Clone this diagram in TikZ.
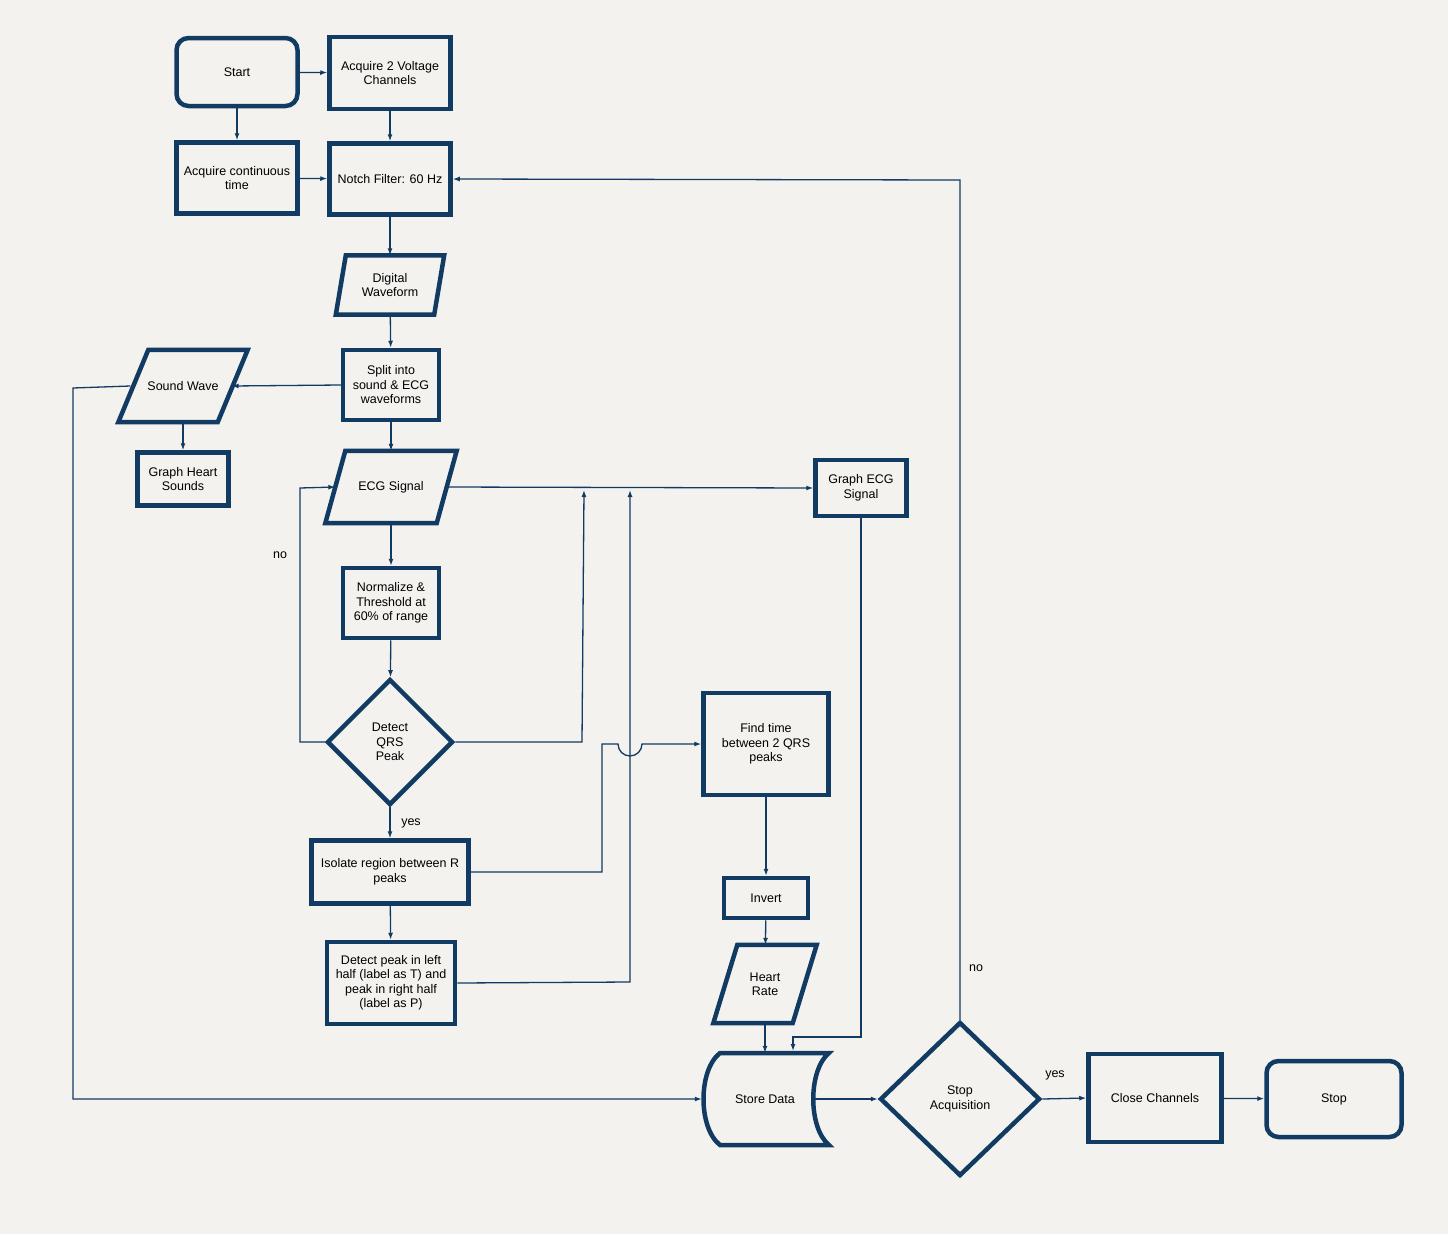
\documentclass[tikz,border=0pt]{standalone}
\usepackage{fontspec}
\setmainfont{Liberation Sans}
\usetikzlibrary{shapes.geometric,arrows.meta}
\definecolor{nv}{HTML}{123B63}
\definecolor{bg}{HTML}{F4F2EE}
\begin{document}
\begin{tikzpicture}[x=1pt,y=-1pt,
  every node/.style={font=\fontsize{12.5}{14.5}\selectfont, align=center, inner sep=0pt},
  box/.style={draw=nv, line width=4.5pt, minimum width=#1},
  rbox/.style={draw=nv, line width=4.5pt, rounded corners=12pt},
  ghost/.style={draw=none},
  shp/.style={draw=nv, line width=4.5pt, line join=miter},
  dia/.style={diamond, draw=nv, line width=4.5pt, inner sep=0pt},
  ln/.style={draw=nv, line width=1.3pt},
  ar/.style={ln, -{Latex[length=7pt,width=5pt]}},
  lab/.style={font=\fontsize{12.5}{14.5}\selectfont}]
\fill[bg] (0,0) rectangle (1448,1234);
\useasboundingbox (0,0) rectangle (1448,1234);
% boxes
\node[rbox, minimum width=121, minimum height=68] (start) at (237,72) {Start};
\node[box=121, minimum height=72] (acq2) at (390,73) {Acquire 2 Voltage\\Channels};
\node[box=121, minimum height=71] (act) at (237,178) {Acquire continuous\\time};
\node[box=121, minimum height=71] (notch) at (390,179) {Notch Filter: 60 Hz};
\node[ghost, minimum width=108, minimum height=59] (dig) at (390,285) {Digital\\Waveform};
\draw[shp] ([xshift=10]dig.north west) -- (dig.north east) -- ([xshift=-10]dig.south east) -- (dig.south west) -- cycle;
\node[box=96, minimum height=70] (split) at (391,385) {Split into\\sound \& ECG\\waveforms};
\node[ghost, minimum width=129, minimum height=72] (sound) at (183,386) {Sound Wave};
\draw[shp] ([xshift=30]sound.north west) -- (sound.north east) -- ([xshift=-30]sound.south east) -- (sound.south west) -- cycle;
\node[box=91, minimum height=53] (ghs) at (183,479) {Graph Heart\\Sounds};
\node[ghost, minimum width=131, minimum height=72] (ecg) at (391,487) {ECG Signal};
\draw[shp] ([xshift=20]ecg.north west) -- (ecg.north east) -- ([xshift=-20]ecg.south east) -- (ecg.south west) -- cycle;
\node[box=91, minimum height=56] (gecg) at (861,488) {Graph ECG\\Signal};
\node[box=96, minimum height=70] (norm) at (391,603) {Normalize \&\\Threshold at\\60\% of range};
\node[dia, minimum width=126, minimum height=126] (qrs) at (390,742) {Detect\\QRS\\Peak};
\node[box=157, minimum height=63] (iso) at (390,872) {Isolate region between R\\peaks};
\node[box=128, minimum height=82] (dp) at (391,983) {Detect peak in left\\half (label as T) and\\peak in right half\\(label as P)};
\node[box=125, minimum height=102] (find) at (766,744) {Find time\\between 2 QRS\\peaks};
\node[box=84, minimum height=40] (inv) at (766,898) {Invert};
\node[ghost, minimum width=103, minimum height=78] (hr) at (765,984) {Heart\\Rate};
\draw[shp] ([xshift=24]hr.north west) -- (hr.north east) -- ([xshift=-24]hr.south east) -- (hr.south west) -- cycle;
\node[ghost, minimum width=126, minimum height=92] (store) at (765,1099) {Store Data};
\draw[shp] (720,1053) -- (829,1053) .. controls (808,1070) and (808,1128) .. (829,1145) -- (720,1145) .. controls (698,1128) and (698,1070) .. (720,1053) -- cycle;
\node[dia, minimum width=160, minimum height=154] (sa) at (960,1099) {Stop\\Acquisition};
\node[box=133, minimum height=88] (close) at (1155,1098) {Close Channels};
\node[rbox, minimum width=135, minimum height=76] (stop) at (1334,1099) {Stop};
% connectors
\draw[ar] (start) -- (acq2);
\draw[ar] (start) -- (act);
\draw[ar] (acq2) -- (notch);
\draw[ar] (act) -- (notch);
\draw[ar] (notch) -- (dig);
\draw[ar] (dig) -- (split);
\draw[ar] (split) -- (ecg);
\draw[ar] (split.west) -- ([xshift=-16]sound.east);
\draw[ar] (sound) -- (ghs);
\coordinate (sw1) at (73,388);
\coordinate (sw2) at (73,1099);
\draw[ar] ([xshift=12]sound.west) -- (sw1) -- (sw2) -- (store.west);
\draw[ar] ([xshift=-10]ecg.east) -- (gecg.west);
\draw[ar] (ecg) -- (norm);
\draw[ar] (norm) -- (qrs);
\coordinate (n1) at (300,742);
\coordinate (n2) at (300,488);
\draw[ar] (qrs.west) -- (n1) -- (n2) -- ([xshift=10]ecg.west);
\node[lab] (nolab) at (280,555) {no};
\coordinate (r1) at (582,742);
\coordinate (r2) at (584,490);
\draw[ar] (qrs.east) -- (r1) -- (r2);
\draw[ar] (qrs) -- (iso);
\node[lab] (yeslab) at (411,823) {yes};
\draw[ar] (iso) -- (dp);
\coordinate (i1) at (602,872);
\coordinate (i2) at (602,744);
\coordinate (h1) at (618,744);
\draw[ar] (iso.east) -- (i1) -- (i2) -- (h1) arc[start angle=180,end angle=0,radius=12] -- (find.west);
\coordinate (d1) at (630,982);
\coordinate (d2) at (630,490);
\draw[ar] (dp.east) -- (d1) -- (d2);
\draw[ar] (find) -- (inv);
\draw[ar] (inv) -- (hr);
\draw[ar] (hr) -- (store.north);
\coordinate (g1) at (861,1037);
\coordinate (g2) at (793,1037);
\coordinate (g3) at (793,1051);
\draw[ar] (gecg.south) -- (g1) -- (g2) -- (g3);
\draw[ar] (811,1099) -- (sa.west);
\coordinate (s1) at (960,180);
\draw[ar] (sa.north) -- (s1) -- (notch.east);
\node[lab] (nolab2) at (976,968) {no};
\draw[ar] (sa.east) -- (close.west);
\node[lab] (yeslab2) at (1055,1075) {yes};
\draw[ar] (close) -- (stop);
\end{tikzpicture}
\end{document}
